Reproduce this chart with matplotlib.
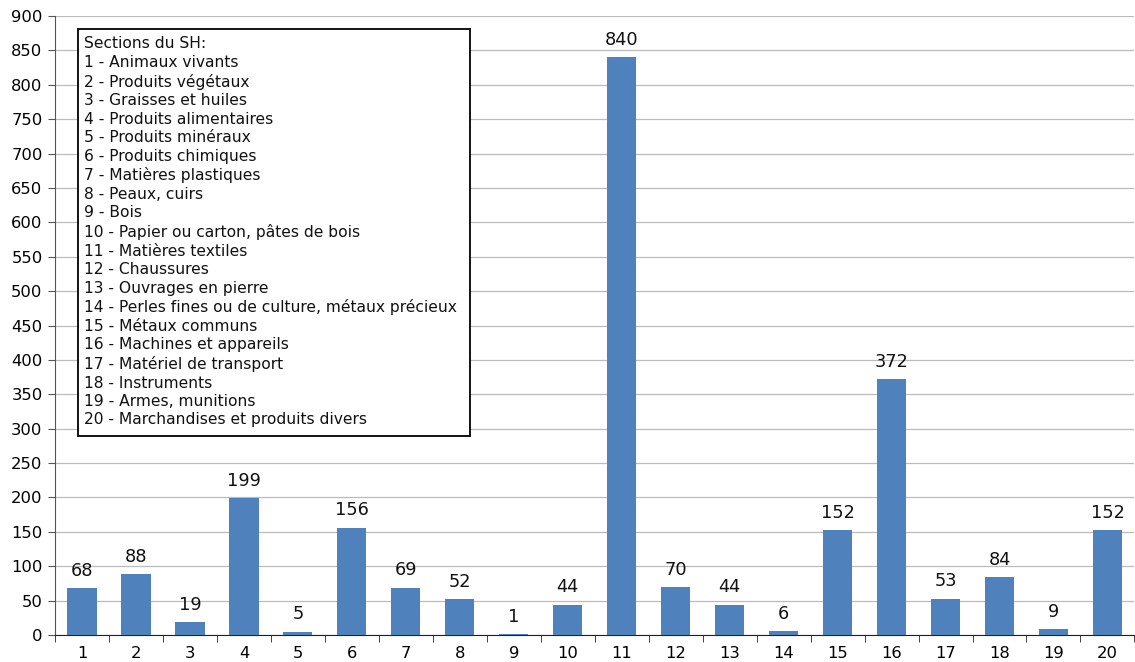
import matplotlib.pyplot as plt
import numpy as np
from matplotlib.patches import Rectangle

sections = [str(i) for i in range(1, 21)]
values = [68, 88, 19, 199, 5, 156, 69, 52, 1, 44, 840, 70, 44, 6, 152, 372, 53, 84, 9, 152]
legend_lines = [
    "Sections du SH:",
    "1 - Animaux vivants",
    "2 - Produits végétaux",
    "3 - Graisses et huiles",
    "4 - Produits alimentaires",
    "5 - Produits minéraux",
    "6 - Produits chimiques",
    "7 - Matières plastiques",
    "8 - Peaux, cuirs",
    "9 - Bois",
    "10 - Papier ou carton, pâtes de bois",
    "11 - Matières textiles",
    "12 - Chaussures",
    "13 - Ouvrages en pierre",
    "14 - Perles fines ou de culture, métaux précieux",
    "15 - Métaux communs",
    "16 - Machines et appareils",
    "17 - Matériel de transport",
    "18 - Instruments",
    "19 - Armes, munitions",
    "20 - Marchandises et produits divers",
]
y_ticks = list(range(0, 901, 50))

plt.rcParams["font.family"] = ["DejaVu Sans"]

fig = plt.figure(figsize=(11.35, 6.62), dpi=100)
ax = fig.add_axes([0.0485, 0.0408, 0.951, 0.935])

x = np.arange(len(sections))
ax.bar(x, values, width=0.54, color="#4F81BD", zorder=3)
for xi, v in zip(x, values):
    ax.text(xi, v + 12, str(v), ha="center", va="bottom", fontsize=12.8, color="#111111")

ax.set_xlim(-0.5, len(sections) - 0.5)
ax.set_ylim(0, 900)
ax.set_yticks(y_ticks)
ax.tick_params(axis="y", labelsize=11.8, length=5, color="#555555", pad=4)
ax.set_xticks(x)
ax.set_xticklabels(sections, fontsize=11.8)
ax.tick_params(axis="x", length=0, pad=8)
ax.set_xticks(np.arange(-0.5, len(sections), 1), minor=True)
ax.tick_params(axis="x", which="minor", length=5, color="#222222")

ax.yaxis.grid(True, color="#BBBBBB", linewidth=0.9, zorder=0)
for side in ["top", "right"]:
    ax.spines[side].set_visible(False)
ax.spines["left"].set_color("#555555")
ax.spines["bottom"].set_color("#222222")

# legend box with the list of sections
ax.add_patch(Rectangle((0.0213, 0.3215), 0.3633, 0.6575, transform=ax.transAxes,
                       facecolor="white", edgecolor="#111111", linewidth=1.4, zorder=5))
ax.text(0.0269, 0.967, "\n".join(legend_lines), transform=ax.transAxes,
        ha="left", va="top", fontsize=11.2, linespacing=1.29, color="#111111", zorder=6)

fig.savefig("out.png", dpi=100)
